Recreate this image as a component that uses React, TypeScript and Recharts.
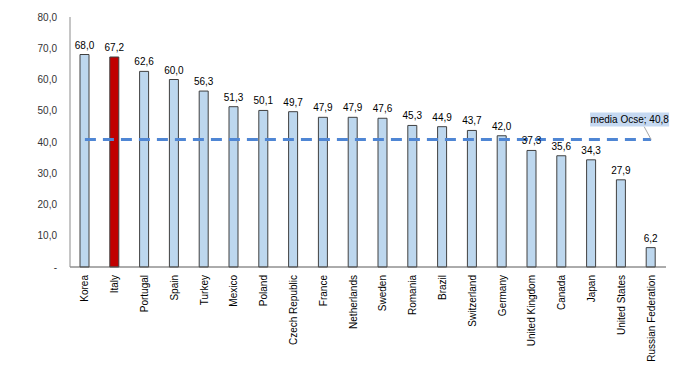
import React from 'react';
import { ComposedChart, Bar, Line, XAxis, YAxis, Cell, LabelList } from 'recharts';

const countries = [
  'Korea', 'Italy', 'Portugal', 'Spain', 'Turkey', 'Mexico', 'Poland', 'Czech Republic',
  'France', 'Netherlands', 'Sweden', 'Romania', 'Brazil', 'Switzerland', 'Germany',
  'United Kingdom', 'Canada', 'Japan', 'United States', 'Russian Federation',
];
const values = [
  68.0, 67.2, 62.6, 60.0, 56.3, 51.3, 50.1, 49.7, 47.9, 47.9,
  47.6, 45.3, 44.9, 43.7, 42.0, 37.3, 35.6, 34.3, 27.9, 6.2,
];
const oecdAverage = 40.8;
const yTicks = [0, 10, 20, 30, 40, 50, 60, 70, 80];

const FONT = '"Liberation Sans", Arial, sans-serif';
const fmt = (v: number) => (v === 0 ? '-' : v.toFixed(1).replace('.', ','));

const data = countries.map((name, i) => ({ name, value: values[i], media: oecdAverage }));

const CountryTick = (props: any) => {
  const { x, y, payload } = props;
  return (
    <text
      x={x}
      y={y}
      transform={`rotate(-90, ${x}, ${y})`}
      textAnchor="end"
      dominantBaseline="central"
      fontSize={10}
      fontFamily={FONT}
      fill="#000"
    >
      {payload.value}
    </text>
  );
};

const MediaLabel = (props: any) => {
  const { x, y, index } = props;
  if (index !== countries.length - 1) return null;
  return (
    <g>
      <line x1={x - 7} y1={y - 13} x2={x} y2={y} stroke="#a6a6a6" strokeWidth={1} />
      <rect x={x - 61} y={y - 27} width={79} height={14} fill="#c6d9f1" />
      <text x={x - 21.5} y={y - 20} textAnchor="middle" dominantBaseline="central" fontSize={10} fontFamily={FONT} fill="#000">
        {`media Ocse; ${fmt(oecdAverage)}`}
      </text>
    </g>
  );
};

export default function App() {
  return (
    <div style={{ position: 'absolute', left: 0, top: 0, background: '#fff' }}>
      <ComposedChart width={700} height={365} data={data} margin={{ top: 17, right: 34, bottom: 0, left: 0 }}>
        <XAxis
          dataKey="name"
          interval={0}
          tickLine={false}
          tickSize={0}
          tickMargin={8}
          height={98}
          axisLine={{ stroke: '#595959' }}
          tick={<CountryTick />}
        />
        <YAxis
          domain={[0, 80]}
          ticks={yTicks}
          width={70}
          tickLine={false}
          tickSize={0}
          tickMargin={13}
          axisLine={{ stroke: '#8c8c8c' }}
          tickFormatter={fmt}
          tick={{ fontSize: 10, fontFamily: FONT, fill: '#333' }}
        />
        <Bar dataKey="value" barSize={9} stroke="#404040" strokeWidth={1} isAnimationActive={false}>
          {data.map((d) => (
            <Cell key={d.name} fill={d.name === 'Italy' ? '#c00000' : '#bdd7ee'} />
          ))}
          <LabelList dataKey="value" position="top" offset={6} formatter={(v: any) => fmt(Number(v))} style={{ fontSize: 10, fontFamily: FONT, fill: '#000' }} />
        </Bar>
        <Line
          dataKey="media"
          stroke="#4f86d4"
          strokeWidth={3}
          strokeDasharray="11 7"
          dot={false}
          activeDot={false}
          isAnimationActive={false}
        >
          <LabelList dataKey="media" content={<MediaLabel />} />
        </Line>
      </ComposedChart>
    </div>
  );
}
